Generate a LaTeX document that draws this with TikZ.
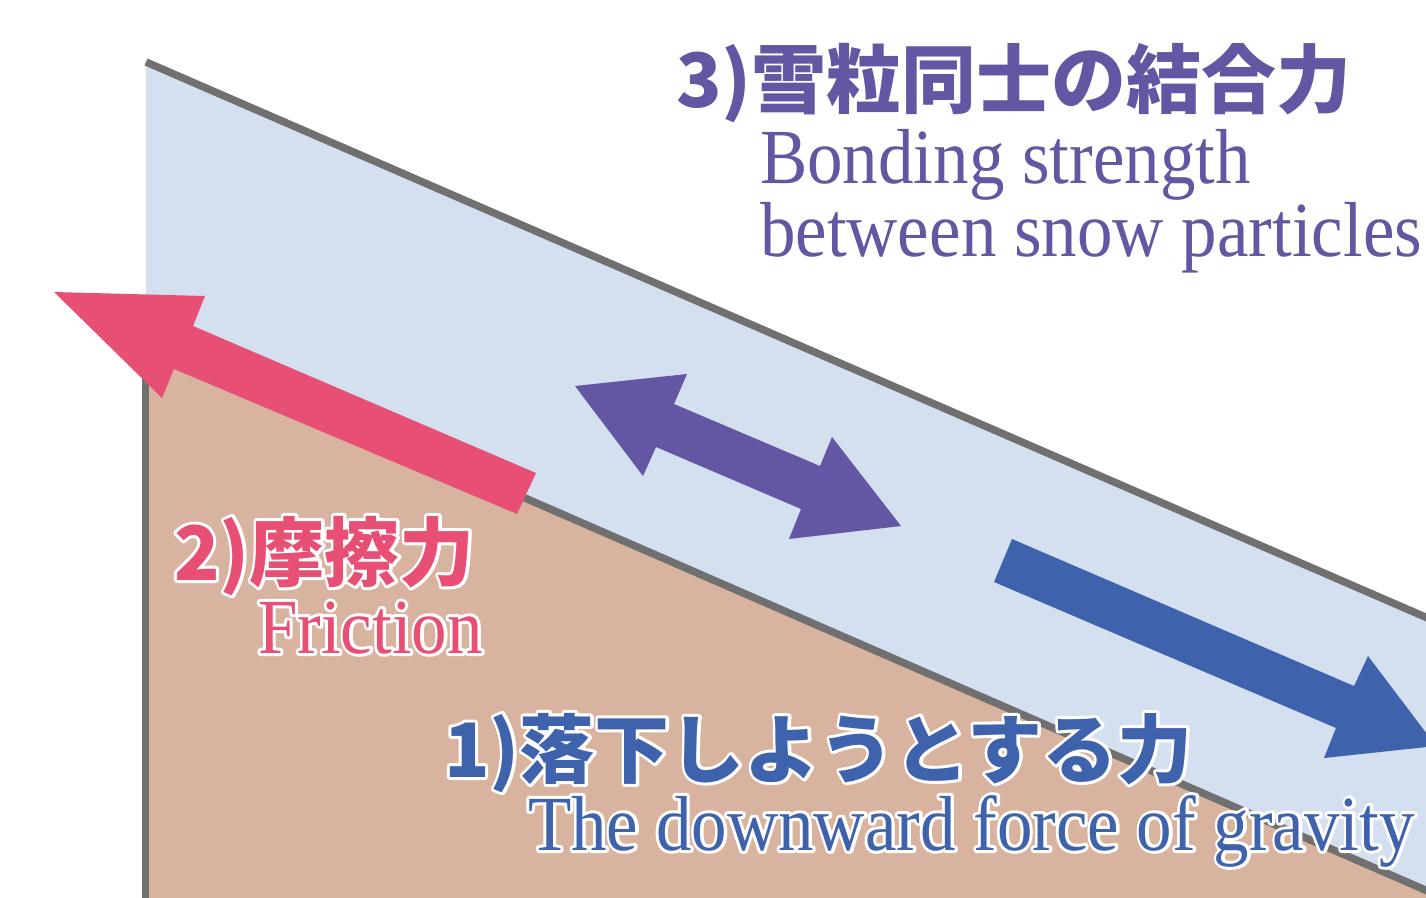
\documentclass[tikz,border=0pt]{standalone}
\usepackage{fontspec}
\newfontfamily\jpfont{Noto Sans CJK JP}
\newfontfamily\serfont{Liberation Serif}[FakeStretch=0.91]
\definecolor{snowc}{HTML}{D4DFF0}
\definecolor{groundc}{HTML}{D8B3A0}
\definecolor{linec}{HTML}{707070}
\definecolor{pinkc}{HTML}{E84F74}
\definecolor{purplec}{HTML}{6357A3}
\definecolor{bluec}{HTML}{3F62AD}
% white halo: one stroked white copy under the filled text
\newcommand\halotext[1]{\special{pdf:literal direct 1 Tr 6 w 1 J 1 j}\rlap{\color{white}#1}\special{pdf:literal direct 0 Tr}#1}
\tikzset{
  slopeline/.style={draw=linec, line width=7.5pt},
  jptext/.style={inner sep=0pt, outer sep=0pt, anchor=base west, font=\jpfont\bfseries\fontsize{75}{75}\selectfont},
  entext/.style={inner sep=0pt, outer sep=0pt, anchor=base west, font=\serfont\fontsize{78}{78}\selectfont},
}
\begin{document}
\begin{tikzpicture}[x=1pt,y=-1pt]
\useasboundingbox (0,0) rectangle (1426,897);
\clip (0,0) rectangle (1426,897);
% corners of the snow layer
\coordinate (tl) at (146,62);
\coordinate (tr) at (1446,626);
\coordinate (gl) at (146,333);
\coordinate (gr) at (1446,899);
% snow layer
\fill[snowc] (tl) -- (tr) -- (gr) -- (gl) -- cycle;
% ground
\fill[groundc] (gl) -- (gr) -- (1446,910) -- (146,910) -- cycle;
% outlines
\draw[slopeline] (tl) -- (tr);
\draw[slopeline] (gl) -- (gr);
\draw[draw=linec, line width=7.6pt] (145.5,333) -- (145.5,910);
% friction arrow
\fill[pinkc] (54,292) -- (205,296) -- (193,326) -- (536,473) -- (517,514) -- (174,369) -- (162,398) -- cycle;
% bonding double arrow
\fill[purplec] (575,386) -- (687,374) -- (674,404) -- (820,466) -- (832,437) -- (901,526) -- (789,539) -- (801,509) -- (656,447) -- (643,476) -- cycle;
% gravity arrow
\fill[bluec] (1012,539) -- (1354,686) -- (1368,656) -- (1436,746) -- (1324,758) -- (1336,728) -- (994,582) -- cycle;
% labels
\node[jptext, text=purplec] (t3jp) at (676,107) {3)雪粒同士の結合力};
\node[entext, text=purplec] (t3en1) at (760,183) {Bonding strength};
\node[entext, text=purplec] (t3en2) at (760,256) {between snow particles};
\node[jptext, text=pinkc] (t2jp) at (174,580) {\halotext{2)摩擦力}};
\node[entext, text=pinkc] (t2en) at (258,653) {\halotext{Friction}};
\node[jptext, text=bluec] (t1jp) at (444,777) {\halotext{1)落下しようとする力}};
\node[entext, text=bluec] (t1en) at (528,850) {\halotext{The downward force of gravity}};
\end{tikzpicture}
\end{document}
